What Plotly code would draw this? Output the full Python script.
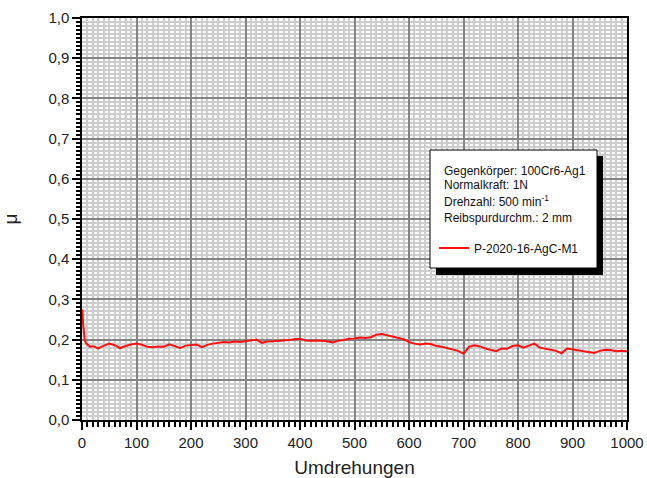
import plotly.graph_objects as go

# Data
umdrehungen = [0, 1, 2, 3, 5, 8, 10, 15, 20, 25, 30, 35, 40, 50, 60, 70, 80, 90,
               100, 110, 120, 130, 140, 150, 160, 170, 180, 190,
               200, 210, 220, 230, 240, 250, 260, 270, 280, 290,
               300, 310, 320, 330, 340, 350, 360, 370, 380, 390,
               400, 410, 420, 430, 440, 450, 460, 470, 480, 490,
               500, 510, 520, 530, 540, 550, 560, 570, 580, 590,
               600, 610, 620, 630, 640, 650, 660, 670, 680, 690,
               700, 710, 720, 730, 740, 750, 760, 770, 780, 790,
               800, 810, 820, 830, 840, 850, 860, 870, 880, 890,
               900, 910, 920, 930, 940, 950, 960, 970, 980, 990, 1000]
mu = [0.275, 0.265, 0.240, 0.215, 0.198, 0.190, 0.187, 0.182, 0.184, 0.180, 0.178, 0.182, 0.185, 0.190, 0.186, 0.179, 0.184, 0.188,
      0.190, 0.187, 0.182, 0.181, 0.183, 0.182, 0.188, 0.184, 0.179, 0.185,
      0.186, 0.188, 0.181, 0.187, 0.190, 0.192, 0.194, 0.193, 0.195, 0.194,
      0.196, 0.197, 0.200, 0.192, 0.195, 0.196, 0.197, 0.197, 0.199, 0.201,
      0.202, 0.198, 0.197, 0.198, 0.197, 0.196, 0.193, 0.197, 0.199, 0.202,
      0.203, 0.205, 0.204, 0.206, 0.212, 0.214, 0.211, 0.208, 0.205, 0.201,
      0.194, 0.190, 0.188, 0.190, 0.189, 0.184, 0.182, 0.178, 0.175, 0.172,
      0.165, 0.182, 0.186, 0.183, 0.178, 0.174, 0.171, 0.178, 0.177, 0.184,
      0.186, 0.180, 0.186, 0.190, 0.180, 0.178, 0.175, 0.172, 0.166, 0.178,
      0.176, 0.174, 0.171, 0.170, 0.167, 0.172, 0.175, 0.174, 0.171, 0.172, 0.171]

series_name = "P-2020-16-AgC-M1"
info_lines = ["Gegenkörper: 100Cr6-Ag1", "Normalkraft: 1N",
              "Drehzahl: 500 min<sup>-1</sup>", "Reibspurdurchm.: 2 mm"]

FONT = "Liberation Sans, Arial, sans-serif"

fig = go.Figure()
fig.add_trace(go.Scatter(x=umdrehungen, y=mu, mode="lines", name=series_name,
                         line=dict(color="#ff1010", width=2), showlegend=True))

W, H = 647, 478
L, R, T, B = 82, 20, 18, 58
pw, ph = W - L - R, H - T - B

def px(x):
    return (x - L) / pw

def py(y):
    return (H - B - y) / ph

shapes = []
# legend box shadow and box
shapes.append(dict(type="rect", xref="paper", yref="paper",
                   x0=px(436), x1=px(603), y0=py(275), y1=py(156),
                   fillcolor="black", line=dict(width=0), layer="above"))
shapes.append(dict(type="rect", xref="paper", yref="paper",
                   x0=px(430), x1=px(597), y0=py(268), y1=py(150),
                   fillcolor="white", line=dict(color="black", width=1), layer="above"))

annotations = []
ys = [171, 185, 201, 218]
for t, yy in zip(info_lines, ys):
    annotations.append(dict(text=t, xref="paper", yref="paper", x=px(442), y=py(yy),
                            xanchor="left", yanchor="middle", showarrow=False,
                            font=dict(family=FONT, size=12, color="#111")))

fig.update_layout(
    width=W, height=H,
    margin=dict(l=L, r=R, t=T, b=B, pad=0, autoexpand=False),
    paper_bgcolor="white", plot_bgcolor="white",
    separators=",.",
    font=dict(family=FONT, size=15, color="#222"),
    shapes=shapes, annotations=annotations,
    showlegend=True,
    legend=dict(x=px(434), y=py(248), xanchor="left", yanchor="middle",
                bgcolor="rgba(0,0,0,0)", borderwidth=0,
                font=dict(family=FONT, size=12, color="#111"),
                itemwidth=30),
    xaxis=dict(range=[0, 1000], dtick=100, tick0=0, tickformat="d", automargin=False,
               showline=True, linecolor="black", linewidth=1.5, mirror=True,
               ticks="outside", ticklen=8, tickcolor="black", tickwidth=1.5,
               showgrid=True, gridcolor="#858585", gridwidth=1.5, zeroline=False,
               tickfont=dict(size=15),
               title=dict(text="Umdrehungen", font=dict(size=19), standoff=12),
               minor=dict(dtick=10, ticks="outside", ticklen=5, tickcolor="black",
                          tickwidth=1.5, showgrid=True, gridcolor="#cdcdcd", gridwidth=1.5)),
    yaxis=dict(range=[0, 1.0], dtick=0.1, tick0=0, tickformat=".1f", automargin=False,
               showline=True, linecolor="black", linewidth=1.5, mirror=True,
               ticks="outside", ticklen=8, tickcolor="black", tickwidth=1.5,
               showgrid=True, gridcolor="#858585", gridwidth=1.5, zeroline=False,
               tickfont=dict(size=15),
               title=dict(text="μ", font=dict(size=19), standoff=26),
               minor=dict(dtick=0.01, ticks="outside", ticklen=4, tickcolor="black",
                          tickwidth=1.5, showgrid=True, gridcolor="#cdcdcd", gridwidth=1.5)),
)

fig.write_html("out.html")
